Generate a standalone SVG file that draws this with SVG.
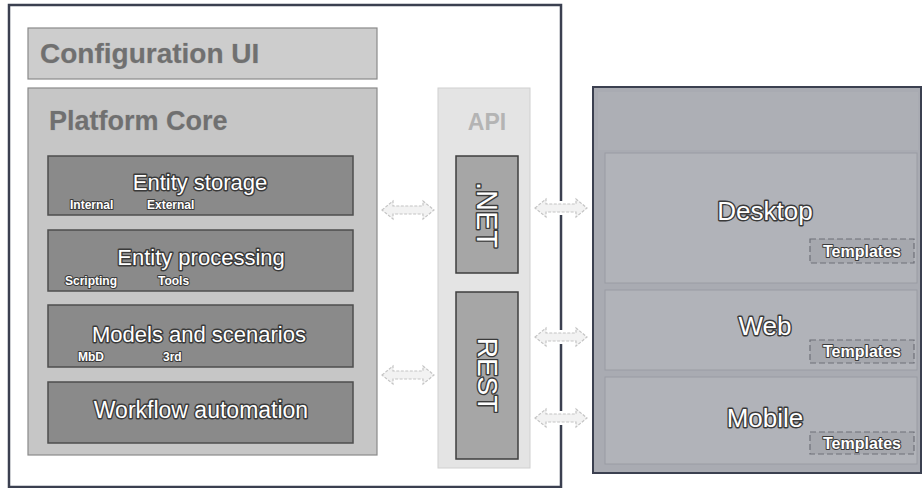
<svg xmlns="http://www.w3.org/2000/svg" width="924" height="488" viewBox="0 0 924 488">
<defs>
<style>
.frame{fill:#ffffff;stroke:#3b4050;stroke-width:2.5}
.cfg{fill:#cdcdcd;stroke:#8a8a8a;stroke-width:1.2}
.core{fill:#c6c6c6;stroke:#8a8a8a;stroke-width:1.2}
.comp{fill:#8a8a8a;stroke:#4e4e4e;stroke-width:1.5}
.api{fill:#e4e4e4;stroke:#d0d0d0;stroke-width:1}
.apibox{fill:#a6a6a6;stroke:#3e3e3e;stroke-width:1.5}
.pres{fill:#a9abb2;stroke:#3b4050;stroke-width:2}
.presin{fill:#b1b3b9;stroke:#9a9ca3;stroke-width:1}
.tpl{fill:#a6a8ae;stroke:#6e7078;stroke-width:1.2;stroke-dasharray:6 3}
.hdr{font-family:"Liberation Sans",Arial,sans-serif;font-weight:bold;fill:#707070;stroke:#b0b0b0;stroke-width:0.6;paint-order:stroke}
.lbl{font-family:"Liberation Sans",Arial,sans-serif;fill:#ffffff;stroke:#3a3a3a;stroke-width:2.8;paint-order:stroke;stroke-linejoin:round}
.sub{font-family:"Liberation Sans",Arial,sans-serif;font-weight:bold;font-size:12px;fill:#ffffff;stroke:#3a3a3a;stroke-width:2;paint-order:stroke;stroke-linejoin:round}
.arrow{fill:#f2f2f2;stroke:#c4c4c4;stroke-width:1.2;stroke-dasharray:3 1.5}
.halo{fill:#ffffff;stroke:#ffffff;stroke-width:6}
</style>
<path id="dbl" d="M0,0 L11,-9 L11,-4 L41,-4 L41,-9 L52,0 L41,9 L41,4 L11,4 L11,9 Z"/>
</defs>

<g id="platform-frame">
<rect class="frame" x="9" y="5" width="552" height="482"/>
</g>

<g id="configuration-ui">
<rect class="cfg" x="28" y="28" width="349" height="51"/>
<text class="hdr" x="40" y="63" font-size="28">Configuration UI</text>
</g>

<g id="platform-core">
<rect class="core" x="28" y="88" width="349" height="367"/>
<text class="hdr" x="49" y="130" font-size="27">Platform Core</text>
</g>

<g id="entity-storage">
<rect class="comp" x="48" y="156" width="305" height="59"/>
<text class="lbl" x="200" y="190" font-size="22" text-anchor="middle">Entity storage</text>
<text class="sub" x="70" y="209">Internal</text>
<text class="sub" x="147" y="209">External</text>
</g>

<g id="entity-processing">
<rect class="comp" x="48" y="230" width="305" height="61"/>
<text class="lbl" x="201" y="265" font-size="22" text-anchor="middle">Entity processing</text>
<text class="sub" x="65" y="285">Scripting</text>
<text class="sub" x="158" y="285">Tools</text>
</g>

<g id="models-scenarios">
<rect class="comp" x="48" y="305" width="305" height="62"/>
<text class="lbl" x="199" y="342" font-size="22" text-anchor="middle">Models and scenarios</text>
<text class="sub" x="78" y="361">MbD</text>
<text class="sub" x="163" y="361">3rd</text>
</g>

<g id="workflow-automation">
<rect class="comp" x="48" y="382" width="305" height="61"/>
<text class="lbl" x="201" y="418" font-size="23" text-anchor="middle">Workflow automation</text>
</g>

<g id="api">
<rect class="api" x="438" y="88" width="92" height="380"/>
<text x="487" y="130" font-family="'Liberation Sans',Arial,sans-serif" font-weight="bold" font-size="23" fill="#b4b4b4" text-anchor="middle">API</text>
</g>

<g id="api-net">
<rect class="apibox" x="456" y="156" width="62" height="117"/>
<text class="lbl" x="487" y="215" font-size="29" text-anchor="middle" dominant-baseline="central" transform="rotate(90 487 215)">.NET</text>
</g>

<g id="api-rest">
<rect class="apibox" x="456" y="292" width="62" height="167"/>
<text class="lbl" x="487" y="375" font-size="28" text-anchor="middle" dominant-baseline="central" transform="rotate(90 487 375)">REST</text>
</g>

<g id="presentation">
<rect class="pres" x="593" y="87" width="328" height="386"/>
<rect x="598" y="92" width="320" height="58" fill="#adafb5"/>
</g>

<g id="desktop">
<rect class="presin" x="605" y="153" width="312" height="130"/>
<text class="lbl" x="765" y="220" font-size="26" text-anchor="middle">Desktop</text>
<rect class="tpl" x="810" y="239" width="104" height="24"/>
<text class="sub" x="862" y="257" text-anchor="middle" style="font-size:16px">Templates</text>
</g>

<g id="web">
<rect class="presin" x="605" y="290" width="312" height="80"/>
<text class="lbl" x="765" y="335" font-size="26" text-anchor="middle">Web</text>
<rect class="tpl" x="810" y="340" width="104" height="23"/>
<text class="sub" x="862" y="357" text-anchor="middle" style="font-size:16px">Templates</text>
</g>

<g id="mobile">
<rect class="presin" x="605" y="377" width="312" height="87"/>
<text class="lbl" x="765" y="427" font-size="26" text-anchor="middle">Mobile</text>
<rect class="tpl" x="810" y="432" width="104" height="22"/>
<text class="sub" x="862" y="449" text-anchor="middle" style="font-size:16px">Templates</text>
</g>

<g id="connectors">
<use href="#dbl" class="arrow" x="382" y="210"/>
<use href="#dbl" class="arrow" x="382" y="375"/>
<use href="#dbl" class="halo" x="535" y="208"/>
<use href="#dbl" class="arrow" x="535" y="208"/>
<use href="#dbl" class="halo" x="535" y="337"/>
<use href="#dbl" class="arrow" x="535" y="337"/>
<use href="#dbl" class="halo" x="535" y="418"/>
<use href="#dbl" class="arrow" x="535" y="418"/>
</g>
</svg>
